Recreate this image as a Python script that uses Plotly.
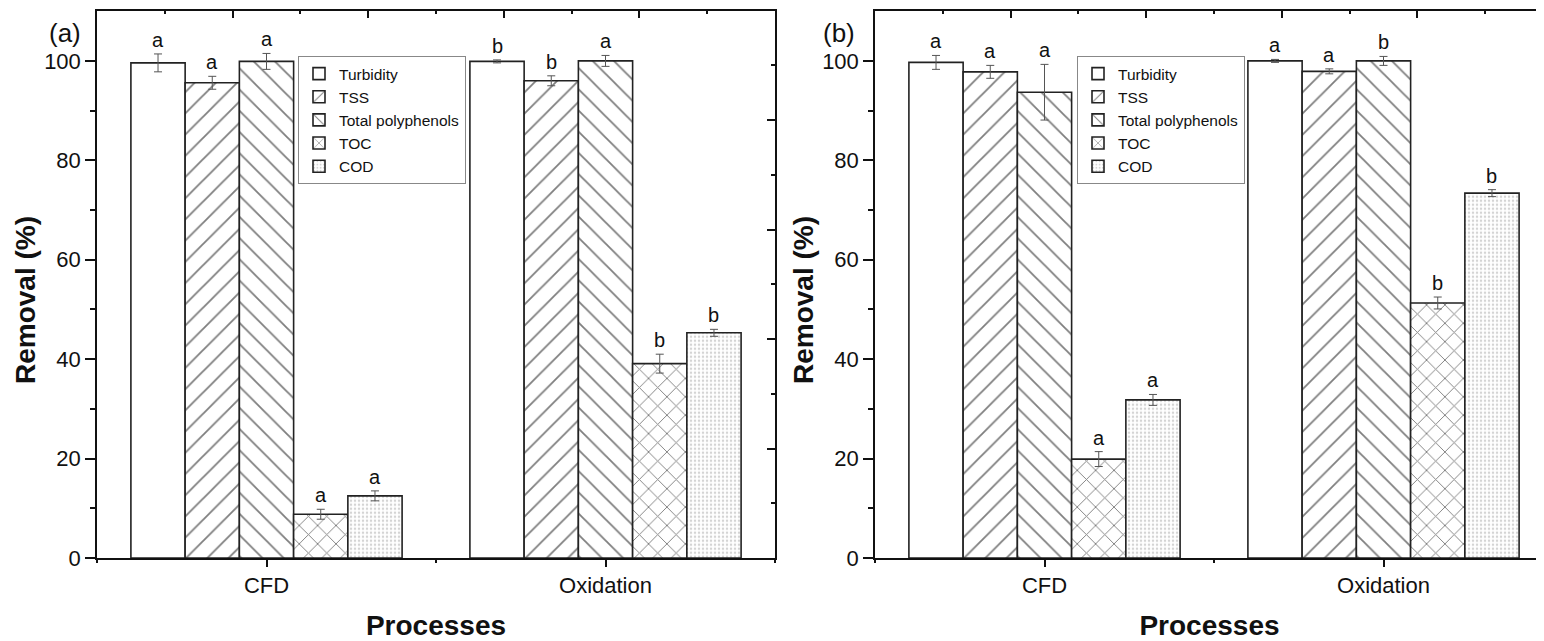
import plotly.graph_objects as go

# ---------------- data ----------------
categories = ["CFD", "Oxidation"]
series_names = ["Turbidity", "TSS", "Total polyphenols", "TOC", "COD"]

# panel (a)
a_turbidity = [99.6, 99.9]
a_tss = [95.6, 96.0]
a_polyphenols = [99.9, 100.0]
a_toc = [8.8, 39.1]
a_cod = [12.5, 45.3]
a_turbidity_err = [1.8, 0.3]
a_tss_err = [1.3, 1.0]
a_polyphenols_err = [1.6, 1.1]
a_toc_err = [1.0, 1.9]
a_cod_err = [1.0, 0.7]
a_turbidity_lbl = ["a", "b"]
a_tss_lbl = ["a", "b"]
a_polyphenols_lbl = ["a", "a"]
a_toc_lbl = ["a", "b"]
a_cod_lbl = ["a", "b"]

# panel (b)
b_turbidity = [99.7, 100.0]
b_tss = [97.8, 97.9]
b_polyphenols = [93.7, 100.0]
b_toc = [19.9, 51.3]
b_cod = [31.8, 73.4]
b_turbidity_err = [1.4, 0.3]
b_tss_err = [1.3, 0.5]
b_polyphenols_err = [5.6, 0.9]
b_toc_err = [1.5, 1.2]
b_cod_err = [1.1, 0.7]
b_turbidity_lbl = ["a", "a"]
b_tss_lbl = ["a", "a"]
b_polyphenols_lbl = ["a", "b"]
b_toc_lbl = ["a", "b"]
b_cod_lbl = ["a", "b"]

panel_a = [
    (a_turbidity, a_turbidity_err, a_turbidity_lbl),
    (a_tss, a_tss_err, a_tss_lbl),
    (a_polyphenols, a_polyphenols_err, a_polyphenols_lbl),
    (a_toc, a_toc_err, a_toc_lbl),
    (a_cod, a_cod_err, a_cod_lbl),
]
panel_b = [
    (b_turbidity, b_turbidity_err, b_turbidity_lbl),
    (b_tss, b_tss_err, b_tss_lbl),
    (b_polyphenols, b_polyphenols_err, b_polyphenols_lbl),
    (b_toc, b_toc_err, b_toc_lbl),
    (b_cod, b_cod_err, b_cod_lbl),
]

# ---------------- styles ----------------
FONT = "Arial, 'Liberation Sans', sans-serif"
patterns = [
    dict(shape=""),
    dict(shape="/", size=15, solidity=0.12, fgcolor="#000000", bgcolor="white"),
    dict(shape="\\", size=15, solidity=0.12, fgcolor="#000000", bgcolor="white"),
    dict(shape="x", size=13, solidity=0.14, fgcolor="#000000", bgcolor="white"),
    dict(shape=".", size=4, solidity=0.3, fgcolor="#a8a8a8", bgcolor="white"),
]

# the page body has an 8px margin; work in reference-pixel coordinates
OFF = 8
W, H = 1544 - OFF, 641 - OFF
px = lambda v: (v - OFF) / W
py = lambda v: 1 - (v - OFF) / H

BARGAP = 0.2
nser = len(series_names)
bw = (1 - BARGAP) / nser

fig = go.Figure()
annotations = []

def add_panel(data, xa, ya, legend_name):
    for j, (vals, errs, lbls) in enumerate(data):
        fig.add_trace(go.Bar(
            x=categories, y=vals, name=series_names[j],
            xaxis=xa, yaxis=ya, legend=legend_name,
            marker=dict(color="white", line=dict(color="#222222", width=1.6),
                        pattern=patterns[j]),
            error_y=dict(type="data", array=errs, color="#555555",
                         thickness=1, width=4),
        ))
        for i, (v, e, t) in enumerate(zip(vals, errs, lbls)):
            annotations.append(dict(
                x=i + (j - (nser - 1) / 2) * bw, y=v + e,
                xref=xa, yref=ya, text=t, showarrow=False,
                yanchor="bottom", yshift=1,
                font=dict(size=20, color="#111111", family=FONT)))

add_panel(panel_a, "x", "y", "legend")
add_panel(panel_b, "x2", "y2", "legend2")

# dummy traces so overlay axes get drawn
for xa, ya in [("x3", "y3"), ("x4", "y4"), ("x5", "y"), ("x6", "y2")]:
    fig.add_trace(go.Scatter(x=[None], y=[None], xaxis=xa, yaxis=ya,
                             showlegend=False, hoverinfo="skip"))

ydom = [py(558), py(10.7)]
dom_a = [px(97), px(775)]
dom_b = [px(875), 1.0]
span_b = (1544 - 875) / 339.0

axis_font = dict(size=22, color="#111111", family=FONT)
title_font = dict(size=28, color="#111111", family=FONT)

def main_x(dom, rng):
    return dict(domain=dom, range=rng, type="category", showline=True,
                linecolor="#111111", linewidth=1.5, ticks="outside", ticklen=7,
                tickwidth=1.5, tickcolor="#111111", showgrid=False,
                zeroline=False, tickfont=axis_font, automargin=False,
                title=dict(text="<b>Processes</b>", font=title_font, standoff=24))

def main_y(dom, anchor):
    return dict(domain=dom, anchor=anchor, range=[0, 110.1], tickmode="array",
                tickvals=[0, 20, 40, 60, 80, 100], showline=True,
                linecolor="#111111", linewidth=1.5, ticks="outside", ticklen=10,
                tickwidth=1.5, tickcolor="#111111", showgrid=False, zeroline=False,
                tickfont=axis_font, automargin=False,
                minor=dict(tickvals=[10, 30, 50, 70, 90], ticks="outside",
                           ticklen=5, tickwidth=1.5, tickcolor="#111111"))

def top_x(over, anchor, rng):
    return dict(overlaying=over, anchor=anchor, side="top", range=rng,
                tickmode="linear", tick0=0, dtick=0.2, ticks="inside",
                ticklen=8, tickwidth=1.5, tickcolor="#111111",
                showticklabels=False, showline=True, linecolor="#111111",
                linewidth=1.5, showgrid=False, zeroline=False,
                minor=dict(tick0=0, dtick=0.1, ticks="inside", ticklen=4,
                           tickwidth=1.5, tickcolor="#111111"))

def right_y(over, anchor, ticklen, showline):
    return dict(overlaying=over, anchor=anchor, side="right", range=[0, 1],
                tickmode="linear", tick0=0, dtick=0.2, ticks="inside",
                ticklen=ticklen, tickwidth=1.5, tickcolor="#111111",
                showticklabels=False, showline=showline, linecolor="#111111",
                linewidth=1.5, showgrid=False, zeroline=False,
                minor=dict(tick0=0, dtick=0.1, ticks="inside", ticklen=4,
                           tickwidth=1.5, tickcolor="#111111"))

def minor_x(over, anchor, rng, vals):
    return dict(overlaying=over, anchor=anchor, side="bottom", range=rng,
                tickmode="array", tickvals=vals, ticks="outside", ticklen=4,
                tickwidth=1.5, tickcolor="#111111", showticklabels=False,
                showline=False, showgrid=False, zeroline=False)

legend_common = dict(font=dict(size=15.5, color="#111111", family=FONT),
                     bgcolor="white", bordercolor="#888888", borderwidth=1,
                     xanchor="left", yanchor="top", tracegroupgap=0,
                     traceorder="normal", itemwidth=30)

annotations += [
    dict(x=px(65), y=py(33), xref="paper", yref="paper", text="(a)",
         xanchor="center", yanchor="middle", showarrow=False,
         font=dict(size=26, color="#111111", family=FONT)),
    dict(x=px(839), y=py(33), xref="paper", yref="paper", text="(b)",
         xanchor="center", yanchor="middle", showarrow=False,
         font=dict(size=26, color="#111111", family=FONT)),
    dict(x=px(25), y=py(300), xref="paper", yref="paper",
         text="<b>Removal (%)</b>", textangle=-90, xanchor="center",
         yanchor="middle", showarrow=False, font=title_font),
    dict(x=px(803), y=py(300), xref="paper", yref="paper",
         text="<b>Removal (%)</b>", textangle=-90, xanchor="center",
         yanchor="middle", showarrow=False, font=title_font),
]

fig.update_layout(
    width=W, height=H,
    margin=dict(l=0, r=0, t=0, b=0),
    paper_bgcolor="white", plot_bgcolor="white",
    barmode="group", bargap=BARGAP, bargroupgap=0,
    font=dict(family=FONT, color="#111111"),
    xaxis=dict(main_x(dom_a, [-0.5, 1.5]), anchor="y"),
    yaxis=main_y(ydom, "x"),
    xaxis2=dict(main_x(dom_b, [-0.5, -0.5 + span_b]), anchor="y2"),
    yaxis2=main_y(ydom, "x2"),
    xaxis3=top_x("x", "y", [0, 1]),
    yaxis3=right_y("y", "x", 8, True),
    xaxis4=top_x("x2", "y2", [0, (1544 - 875) / 678.0]),
    yaxis4=right_y("y2", "x2", 3, False),
    xaxis5=minor_x("x", "y", [-0.5, 1.5], [-0.5, 0.5, 1.5]),
    xaxis6=minor_x("x2", "y2", [-0.5, -0.5 + span_b], [-0.5, 0.5]),
    legend=dict(legend_common, x=px(298), y=py(56)),
    legend2=dict(legend_common, x=px(1077), y=py(56)),
    annotations=annotations,
    showlegend=True,
)

fig.write_html("out.html")
